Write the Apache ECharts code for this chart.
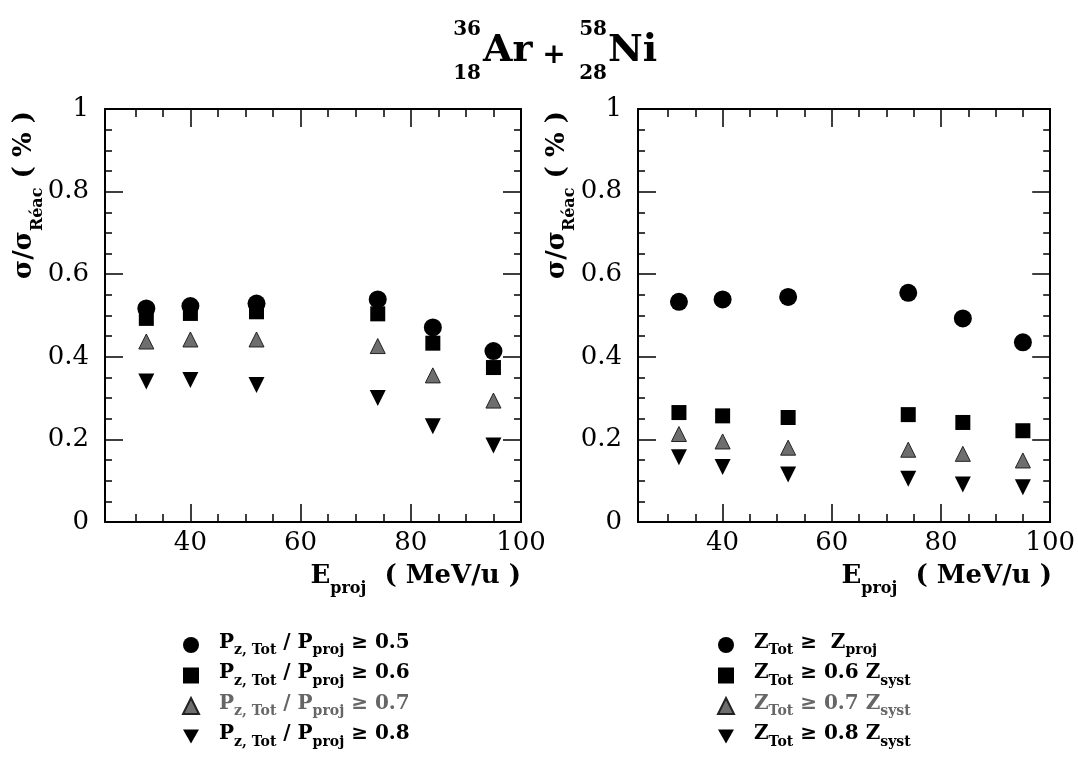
<!DOCTYPE html>
<html><head><meta charset="utf-8">
<script src="https://cdn.jsdelivr.net/npm/echarts@6/dist/echarts.min.js"></script>
<style>html,body{margin:0;padding:0;background:#fff}#c{width:1078px;height:762px}</style>
</head><body><div id="c"></div>
<script>
// ---- data ----
const energies = [32, 40, 52, 74, 84, 95];
const pz05 = [0.517, 0.523, 0.529, 0.539, 0.471, 0.414];
const pz06 = [0.493, 0.505, 0.509, 0.504, 0.433, 0.374];
const pz07 = [0.437, 0.442, 0.442, 0.426, 0.355, 0.294];
const pz08 = [0.340, 0.344, 0.332, 0.300, 0.232, 0.185];
const zProj = [0.533, 0.539, 0.545, 0.555, 0.493, 0.435];
const z06 = [0.265, 0.257, 0.253, 0.260, 0.241, 0.221];
const z07 = [0.213, 0.195, 0.180, 0.175, 0.165, 0.149];
const z08 = [0.157, 0.133, 0.115, 0.105, 0.091, 0.084];
const xMajorTicks = [40, 60, 80];
const xMinorTicks = [30, 35, 45, 50, 55, 65, 70, 75, 85, 90, 95];
const xTickLabels = [40, 60, 80, 100];
const yTickLabels = [0, 0.2, 0.4, 0.6, 0.8, 1];

const F = "'DejaVu Serif', serif";
const chart = echarts.init(document.getElementById('c'), null, {renderer: 'canvas'});

function pts(v) { return energies.map((e, i) => [e, v[i]]); }

const styles = [
  {symbol: 'circle', symbolSize: 18, itemStyle: {color: '#000', opacity: 1}, z: 5},
  {symbol: 'rect', symbolSize: 15, itemStyle: {color: '#000', opacity: 1}, z: 4},
  {symbol: 'triangle', symbolSize: 15, itemStyle: {color: '#6e6e6e', borderColor: '#222', borderWidth: 1, opacity: 1}, z: 3},
  {symbol: 'triangle', symbolSize: 16, symbolRotate: 180, itemStyle: {color: '#000', opacity: 1}, z: 3}
];
const leftNames = ['P05', 'P06', 'P07', 'P08'];
const rightNames = ['Z10', 'Z06', 'Z07', 'Z08'];
const leftVals = [pz05, pz06, pz07, pz08];
const rightVals = [zProj, z06, z07, z08];

const series = [];
for (let k = 0; k < 4; k++) {
  series.push(Object.assign({type: 'scatter', name: leftNames[k], xAxisIndex: 1, yAxisIndex: 0, data: pts(leftVals[k])}, styles[k]));
  series.push(Object.assign({type: 'scatter', name: rightNames[k], xAxisIndex: 5, yAxisIndex: 2, data: pts(rightVals[k])}, styles[k]));
}

const grids = [
  {left: 105, top: 109, width: 416, height: 413},
  {left: 638, top: 109, width: 415, height: 413}
];
const tickLine = {color: '#000', width: 1.5};
const xAxes = [], yAxes = [];
for (let g = 0; g < 2; g++) {
  ['bottom', 'top'].forEach(pos => {
    xAxes.push({type: 'value', gridIndex: g, position: pos, min: 24.5, max: 100,
      axisLine: {show: true, onZero: false, lineStyle: {color: '#000', width: 2}},
      axisTick: {show: true, inside: true, length: 8, customValues: xMinorTicks, lineStyle: tickLine},
      axisLabel: {show: false}, splitLine: {show: false}});
    xAxes.push({type: 'value', gridIndex: g, position: pos, min: 24.5, max: 100,
      axisLine: {show: false, onZero: false},
      axisTick: {show: true, inside: true, length: 18, customValues: xMajorTicks, lineStyle: tickLine},
      axisLabel: pos === 'bottom' ? {show: true, customValues: xTickLabels, fontFamily: F, fontSize: 26, color: '#000', margin: 8} : {show: false},
      splitLine: {show: false}});
  });
  ['left', 'right'].forEach(pos => {
    yAxes.push({type: 'value', gridIndex: g, position: pos, min: 0, max: 1, interval: 0.2,
      axisLine: {show: true, onZero: false, lineStyle: {color: '#000', width: 2}},
      axisTick: {show: true, inside: true, length: 18, lineStyle: tickLine},
      minorTick: {show: true, splitNumber: 4, length: 7, lineStyle: tickLine},
      axisLabel: pos === 'left' ? {show: true, customValues: yTickLabels, fontFamily: F, fontSize: 26, color: '#000', margin: 16,
        formatter: v => (v === 0 || v === 1) ? String(v) : v.toFixed(1)} : {show: false},
      splitLine: {show: false}});
  });
}

function richSet(color, weight) {
  return {
    f: {fontFamily: F, fontWeight: weight, fontSize: 20, lineHeight: 20, padding: [0, 0, 5, 15], color: color},
    m: {fontFamily: F, fontWeight: weight, fontSize: 20, lineHeight: 20, padding: [0, 0, 5, 0], color: color},
    s: {fontFamily: F, fontWeight: weight, fontSize: 14, lineHeight: 14, padding: [11, 0, 0, 0], color: color}
  };
}
const rb = richSet('#000', 'bold');
const rg = richSet('#666', 'bold');
const richLegend = {f: rb.f, m: rb.m, s: rb.s, fg: rg.f, mg: rg.m, sg: rg.s};
const legendText = {
  P05: '{f|P}{s|z, Tot}{m| / P}{s|proj}{m| ≥ 0.5}',
  P06: '{f|P}{s|z, Tot}{m| / P}{s|proj}{m| ≥ 0.6}',
  P07: '{fg|P}{sg|z, Tot}{mg| / P}{sg|proj}{mg| ≥ 0.7}',
  P08: '{f|P}{s|z, Tot}{m| / P}{s|proj}{m| ≥ 0.8}',
  Z10: '{f|Z}{s|Tot}{m| ≥  Z}{s|proj}',
  Z06: '{f|Z}{s|Tot}{m| ≥ 0.6 Z}{s|syst}',
  Z07: '{fg|Z}{sg|Tot}{mg| ≥ 0.7 Z}{sg|syst}',
  Z08: '{f|Z}{s|Tot}{m| ≥ 0.8 Z}{s|syst}'
};
const downIcon = 'path://M0,0 L16,0 L8,14 Z';
function legendCfg(left, names) {
  return {orient: 'vertical', left: left, top: 632.5, padding: 0, itemWidth: 16, itemHeight: 16, itemGap: 5.5,
    selectedMode: false, symbolRotate: 'inherit',
    data: names.map((n, i) => i === 3 ? {name: n, icon: downIcon, itemStyle: {color: '#000'}} : {name: n}),
    formatter: n => legendText[n], textStyle: {rich: richLegend}};
}

const richName = {
  m: {fontFamily: F, fontWeight: 'bold', fontSize: 26, lineHeight: 26, padding: [0, 0, 8, 0], fill: '#000', color: '#000'},
  s: {fontFamily: F, fontWeight: 'bold', fontSize: 16, lineHeight: 16, padding: [18, 0, 0, 0], fill: '#000', color: '#000'}
};
function txt(x, y, text, size, align) {
  return {type: 'text', x: x, y: y, style: {text: text, fontFamily: F, fontWeight: 'bold', fontSize: size, fill: '#000', align: align, verticalAlign: 'middle'}};
}
const graphic = [
  txt(481, 30, '36', 20, 'right'), txt(481, 73.5, '18', 20, 'right'), txt(483, 51.5, 'Ar', 38, 'left'),
  txt(554, 56, '+', 28, 'center'),
  txt(607, 30, '58', 20, 'right'), txt(607, 73.5, '28', 20, 'right'), txt(608, 51.5, 'Ni', 38, 'left'),
  {type: 'text', x: 521, y: 580, style: {text: '{m|E}{s|proj}{m|  ( MeV/u )}', rich: richName, align: 'right', verticalAlign: 'middle'}},
  {type: 'text', x: 1052, y: 580, style: {text: '{m|E}{s|proj}{m|  ( MeV/u )}', rich: richName, align: 'right', verticalAlign: 'middle'}},
  {type: 'text', x: 28.5, y: 195, rotation: Math.PI / 2, style: {text: '{m|σ/σ}{s|Réac}{m| ( % )}', rich: richName, align: 'center', verticalAlign: 'middle'}},
  {type: 'text', x: 561, y: 195, rotation: Math.PI / 2, style: {text: '{m|σ/σ}{s|Réac}{m| ( % )}', rich: richName, align: 'center', verticalAlign: 'middle'}}
];

chart.setOption({
  backgroundColor: '#fff',
  animation: false,
  grid: grids,
  xAxis: xAxes,
  yAxis: yAxes,
  legend: [legendCfg(182, leftNames), legendCfg(717, rightNames)],
  graphic: graphic,
  series: series
});
</script></body></html>
